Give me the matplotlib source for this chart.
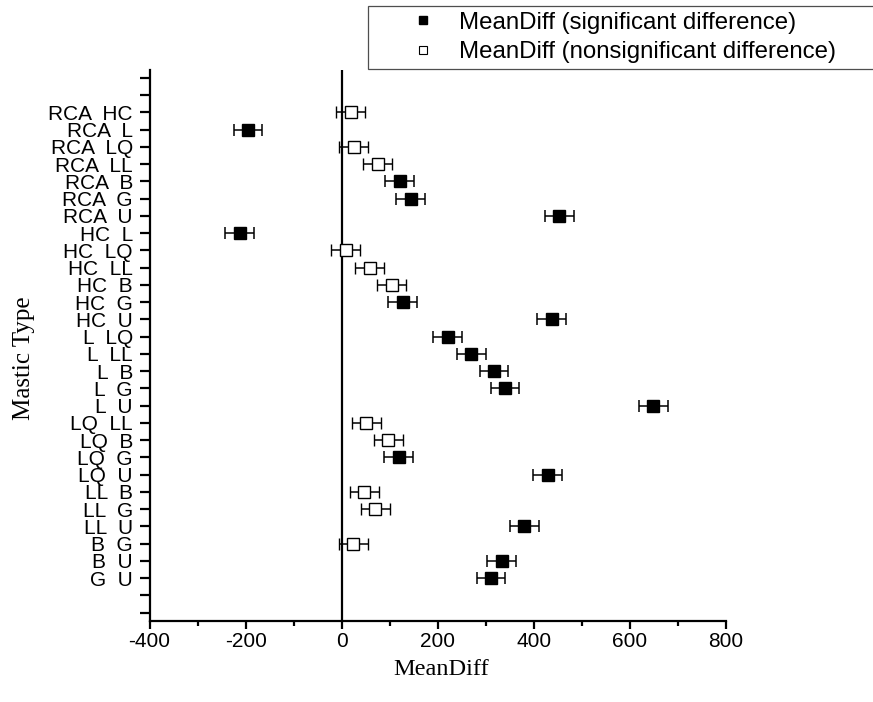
import matplotlib
matplotlib.use("Agg")
import matplotlib.pyplot as plt
from matplotlib.lines import Line2D
from matplotlib.ticker import MultipleLocator
import numpy as np

# Tukey pairwise comparisons of mastic types
pairs = ["RCA  HC", "RCA  L", "RCA  LQ", "RCA  LL", "RCA  B", "RCA  G", "RCA  U",
         "HC  L", "HC  LQ", "HC  LL", "HC  B", "HC  G", "HC  U",
         "L  LQ", "L  LL", "L  B", "L  G", "L  U",
         "LQ  LL", "LQ  B", "LQ  G", "LQ  U",
         "LL  B", "LL  G", "LL  U",
         "B  G", "B  U",
         "G  U"]
mean_diff = [19, -195, 25, 75, 121, 144, 453,
             -212, 8, 58, 104, 127, 437,
             221, 270, 317, 340, 649,
             51, 97, 119, 429,
             47, 70, 380,
             24, 333,
             311]
ci_half = [30, 30, 30, 30, 30, 30, 30,
           30, 30, 30, 30, 30, 30,
           30, 30, 30, 30, 30,
           30, 30, 30, 30,
           30, 30, 30,
           30, 30,
           30]
significant = [False, True, False, False, True, True, True,
               True, False, False, False, True, True,
               True, True, True, True, True,
               False, False, True, True,
               False, False, True,
               False, True,
               True]

plt.rcParams['font.family'] = ['Liberation Sans', 'DejaVu Sans']
plt.rcParams['axes.unicode_minus'] = False

fig = plt.figure(figsize=(8.73, 7.02), dpi=100)
ax = fig.add_axes([0.1713, 0.1154, 0.6603, 0.7849])

# two empty tick slots above and below the comparisons
ypos = np.arange(len(pairs)) + 2
md = np.array(mean_diff)
err = np.array(ci_half)
sig = np.array(significant)

ax.axvline(0, color='black', lw=1.6, zorder=1)

ax.errorbar(md[sig], ypos[sig], xerr=err[sig], fmt='s', ms=8,
            mfc='black', mec='black', ecolor='black', elinewidth=1.1,
            capsize=4, capthick=1.1, zorder=3)
ax.errorbar(md[~sig], ypos[~sig], xerr=err[~sig], fmt='s', ms=8,
            mfc='white', mec='black', mew=1.0, ecolor='black', elinewidth=1.1,
            capsize=4, capthick=1.1, zorder=3)

n_ticks = len(pairs) + 4
ax.set_yticks(range(n_ticks))
ax.set_yticklabels(['', ''] + pairs + ['', ''])
ax.set_ylim(n_ticks - 0.52, -0.46)

ax.set_xlim(-400, 800)
ax.xaxis.set_major_locator(MultipleLocator(200))
ax.xaxis.set_minor_locator(MultipleLocator(100))

for side in ['top', 'right']:
    ax.spines[side].set_visible(False)
for side in ['left', 'bottom']:
    ax.spines[side].set_linewidth(1.6)

ax.tick_params(axis='y', which='major', length=7, width=1.6, pad=5, labelsize=15)
ax.tick_params(axis='x', which='major', length=6, width=1.6, pad=2, labelsize=15)
ax.tick_params(axis='x', which='minor', length=3.5, width=1.6)

ax.set_xlabel('MeanDiff', fontsize=17.5, family='Liberation Serif')
ax.xaxis.set_label_coords(0.506, -0.069)
ax.set_ylabel('Mastic Type', fontsize=18, family='Liberation Serif')
ax.yaxis.set_label_coords(-0.199, 0.477)

handles = [
    Line2D([], [], ls='none', marker='s', ms=6, mfc='black', mec='black'),
    Line2D([], [], ls='none', marker='s', ms=6, mfc='white', mec='black', mew=0.8),
]
top = 1 - 5.7 / 702
leg = fig.legend(handles,
                 ['MeanDiff (significant difference)', 'MeanDiff (nonsignificant difference)'],
                 loc='upper left', bbox_to_anchor=(368 / 873, top - 0.01, 0.62, 0.01),
                 bbox_transform=fig.transFigure, mode='expand', borderaxespad=0,
                 fontsize=17.3, frameon=True, fancybox=False, shadow=False,
                 borderpad=0.25, labelspacing=0.32, handlelength=4.09, handletextpad=-0.55)
leg.get_frame().set_edgecolor('#222222')
leg.get_frame().set_linewidth(0.9)

fig.savefig('out.png', dpi=100)
